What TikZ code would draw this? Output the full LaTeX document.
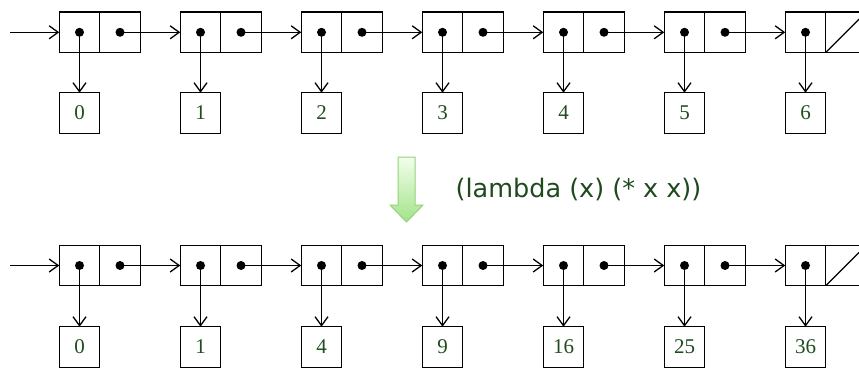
\documentclass[tikz,border=0pt]{standalone}
\usepackage{fontspec}
\setmainfont{Liberation Serif}
\newfontfamily\lamfont{DejaVu Sans}
\usetikzlibrary{arrows.meta}
\definecolor{numgreen}{HTML}{1E4D1E}
\definecolor{lamgreen}{HTML}{1F4A1F}
\definecolor{arrtop}{HTML}{F2FFEA}
\definecolor{arrbot}{HTML}{A3E38A}
\definecolor{arrline}{HTML}{94D27C}
\begin{document}
\begin{tikzpicture}[x=1pt,y=-1pt,line width=1.3pt,
  cellbox/.style={draw,minimum width=40.5pt,minimum height=40.5pt,inner sep=0pt,outer sep=0pt},
  valbox/.style={cellbox,text=numgreen,font=\fontsize{21}{24}\selectfont},
  ptr/.style={-{Straight Barb[length=9pt,width=13pt,line width=1.3pt]}}]
\useasboundingbox (0,0) rectangle (859,367);
% rows
\foreach \row/\ry/\vy/\vals in {t/32.3/113/{0,1,2,3,4,5,6},b/265.5/347/{0,1,4,9,16,25,36}}{
  \foreach \val [count=\k] in \vals {
    \pgfmathsetmacro\cx{79.5+121*(\k-1)}
    \node[cellbox] (\row a\k) at (\cx,\ry) {};
    \node[cellbox] (\row d\k) at (\cx+40.5,\ry) {};
    \node[valbox] (\row v\k) at (\cx,\vy) {\val};
    \fill (\row a\k.center) circle[radius=4.5pt];
    \draw[ptr] (\row a\k.center) -- (\row v\k.north);
  }
  \coordinate (\row s) at (10,\ry);
  \draw[ptr] (\row s) -- (\row a1.west);
  \foreach \k [evaluate=\k as \n using int(\k+1)] in {1,...,6}{
    \fill (\row d\k.center) circle[radius=4.5pt];
    \draw[ptr] (\row d\k.center) -- (\row a\n.west);
  }
  \draw (\row d7.south west) -- (\row d7.north east);
}
% green arrow
\shade[top color=arrtop,bottom color=arrbot,draw=arrline,line width=1pt]
  (398,157) -- (415,157) -- (415,205) -- (423,205) -- (406.5,222) -- (390,205) -- (398,205) -- cycle;
\node[anchor=base west,inner sep=0pt,text=lamgreen,font=\lamfont\fontsize{25.5}{30}\selectfont] (lam) at (455,197) {(lambda (x) (* x x))};
\end{tikzpicture}
\end{document}
